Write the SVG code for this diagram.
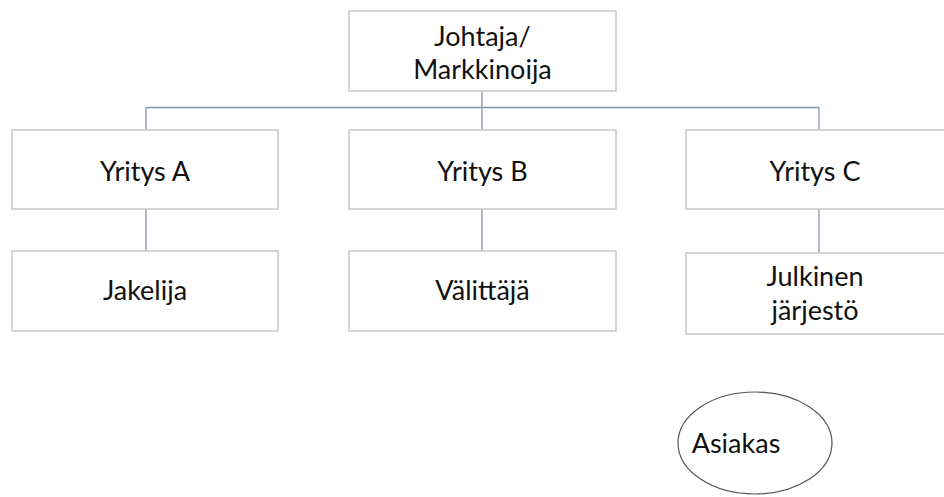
<svg xmlns="http://www.w3.org/2000/svg" width="944" height="497" viewBox="0 0 944 497">
<style>
.box{fill:#fff;stroke:#c9c9c9;stroke-width:1.5}
.lbl{font-family:Lato,"Open Sans",sans-serif;font-size:27px;fill:#111;text-anchor:middle}
.con{stroke:#8497aa;stroke-width:1.3;fill:none}
</style>
<rect width="944" height="497" fill="#fff"/>
<g id="connectors">
<path class="con" d="M482,91V130M146,107.5H819M146,107.5V130M819,107.5V130M146,209V251M482,209V251M819,209V253"/>
</g>
<g id="johtaja"><rect class="box" x="349" y="11" width="267" height="80"/><text class="lbl" x="482.5" y="46">Johtaja/</text><text class="lbl" x="482.5" y="79">Markkinoija</text></g>
<g id="yritysA"><rect class="box" x="12" y="130" width="266" height="79"/><text class="lbl" x="145" y="181">Yritys A</text></g>
<g id="yritysB"><rect class="box" x="349" y="130" width="267" height="79"/><text class="lbl" x="482.5" y="181">Yritys B</text></g>
<g id="yritysC"><rect class="box" x="686" y="130" width="266" height="79"/><text class="lbl" x="815" y="181">Yritys C</text></g>
<g id="jakelija"><rect class="box" x="12" y="251" width="266" height="80"/><text class="lbl" x="145" y="300">Jakelija</text></g>
<g id="valittaja"><rect class="box" x="349" y="251" width="267" height="80"/><text class="lbl" x="482.5" y="300">Välittäjä</text></g>
<g id="julkinen"><rect class="box" x="686" y="253" width="266" height="81"/><text class="lbl" x="815" y="286">Julkinen</text><text class="lbl" x="815" y="320">järjestö</text></g>
<g id="asiakas"><ellipse cx="755" cy="443" rx="77" ry="51" fill="#fff" stroke="#555" stroke-width="1.2"/><text class="lbl" x="736" y="453">Asiakas</text></g>
</svg>
